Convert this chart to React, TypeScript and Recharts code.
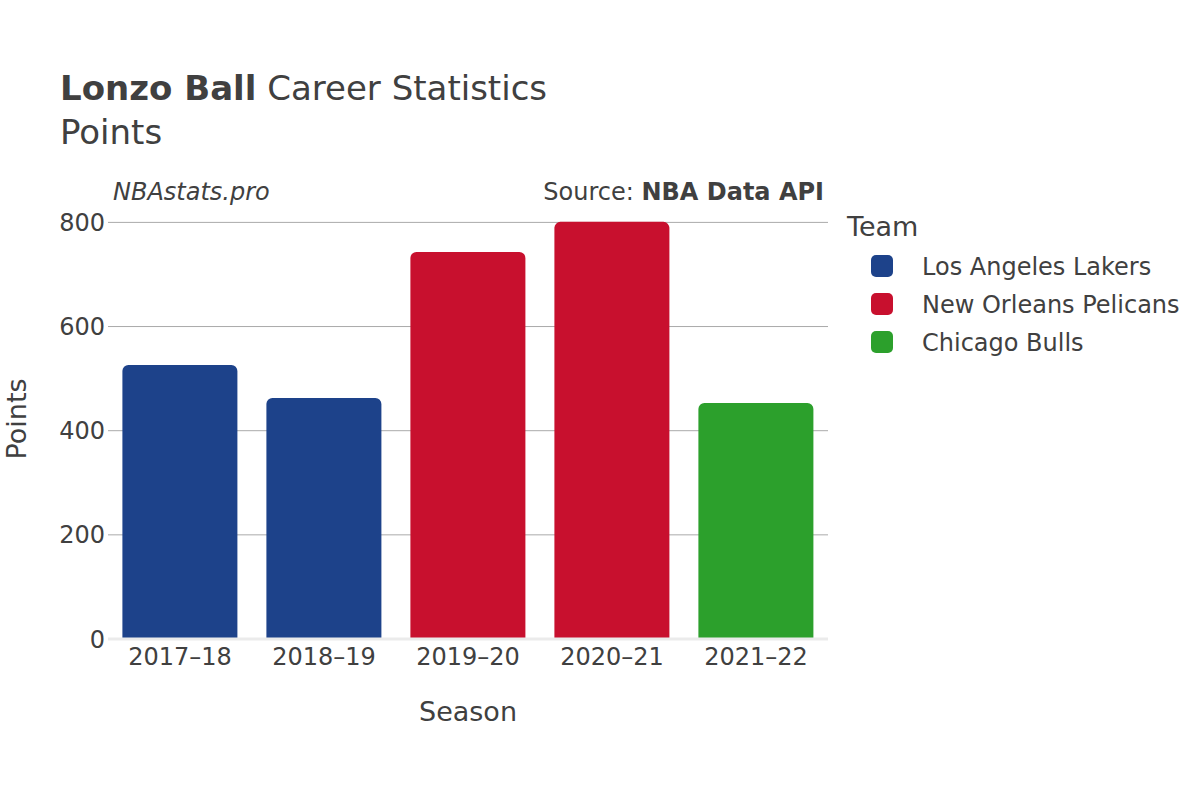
import React from 'react';
import { BarChart, Bar, XAxis, YAxis, CartesianGrid, Cell, ReferenceLine } from 'recharts';

const seasons = ['2017–18', '2018–19', '2019–20', '2020–21', '2021–22'];
const points = [526, 463, 743, 801, 453];
const seasonTeams = ['Los Angeles Lakers', 'Los Angeles Lakers', 'New Orleans Pelicans', 'New Orleans Pelicans', 'Chicago Bulls'];
const teamNames = ['Los Angeles Lakers', 'New Orleans Pelicans', 'Chicago Bulls'];
const teamColors = ['#1d428a', '#c8102e', '#2ca02c'];
const yTicks = [0, 200, 400, 600, 800];

const data = seasons.map((s, i) => ({ season: s, points: points[i], team: seasonTeams[i] }));

const FONT = '"DejaVu Sans", sans-serif';
const TEXT = '#404040';

export default function App() {
  return (
    <div style={{ position: 'absolute', left: 0, top: 0, width: 1200, height: 800, background: '#fff', fontFamily: FONT }}>
      <BarChart
        width={1200}
        height={800}
        data={data}
        margin={{ top: 200, right: 372, bottom: 61, left: 48 }}
        barCategoryGap="10%"
      >
        <CartesianGrid horizontal vertical={false} stroke="#aaa" strokeWidth={1} horizontalValues={yTicks} />
        <XAxis
          dataKey="season"
          height={100}
          tickLine={false}
          axisLine={false}
          tickSize={0}
          tickMargin={9}
          tick={{ fill: TEXT, fontSize: 24, fontFamily: FONT }}
        />
        <YAxis
          width={60}
          domain={[0, 843]}
          ticks={yTicks}
          tickLine={false}
          axisLine={false}
          tickSize={0}
          tickMargin={3}
          tick={{ fill: TEXT, fontSize: 24, fontFamily: FONT }}
        />
        <Bar dataKey="points" isAnimationActive={false} radius={[6, 6, 0, 0]}>
          {data.map((d, i) => (
            <Cell key={i} fill={teamColors[teamNames.indexOf(d.team)]} />
          ))}
        </Bar>
        <ReferenceLine y={0} stroke="#ebebeb" strokeWidth={3} />
      </BarChart>
      <svg width={1200} height={800} style={{ position: 'absolute', left: 0, top: 0, pointerEvents: 'none' }}>
        <text x={60} y={100} fontSize={34} fill={TEXT} fontFamily={FONT}>
          <tspan fontWeight="bold">Lonzo Ball</tspan>
          <tspan> Career Statistics</tspan>
        </text>
        <text x={60} y={144} fontSize={34} fill={TEXT} fontFamily={FONT}>Points</text>
        <text x={113} y={200} fontSize={24} fontStyle="italic" fill={TEXT} fontFamily={FONT}>NBAstats.pro</text>
        <text x={824} y={200} fontSize={24} fill={TEXT} fontFamily={FONT} textAnchor="end">
          <tspan>Source: </tspan>
          <tspan fontWeight="bold">NBA Data API</tspan>
        </text>
        <text x={468} y={721} fontSize={27} fill={TEXT} fontFamily={FONT} textAnchor="middle">Season</text>
        <text x={0} y={0} fontSize={27} fill={TEXT} fontFamily={FONT} textAnchor="middle" transform="translate(26,419) rotate(-90)">Points</text>
        <text x={847} y={236} fontSize={27} fill={TEXT} fontFamily={FONT}>Team</text>
        {teamNames.map((t, i) => (
          <g key={t}>
            <rect x={871} y={255 + i * 38} width={22} height={22} rx={5} fill={teamColors[i]} />
            <text x={922} y={275 + i * 38} fontSize={24} fill={TEXT} fontFamily={FONT}>{t}</text>
          </g>
        ))}
      </svg>
    </div>
  );
}
